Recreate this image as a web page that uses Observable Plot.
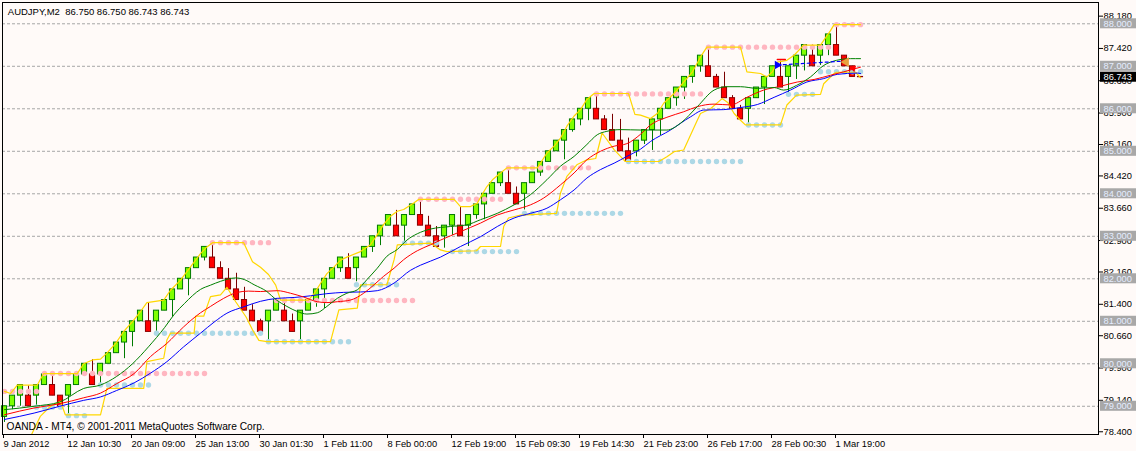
<!DOCTYPE html>
<html><head><meta charset="utf-8">
<script src="https://cdn.jsdelivr.net/npm/d3@7"></script>
<script src="https://cdn.jsdelivr.net/npm/@observablehq/plot@0.6"></script>
<style>
html,body{margin:0;padding:0;background:#fffaf8;}
#chart svg{display:block;}
</style></head><body><div id="chart"></div>
<script>
const title = "AUDJPY,M2\u00a0\u00a086.750 86.750 86.743 86.743";
const footer = "OANDA - MT4, \u00a9 2001-2011 MetaQuotes Software Corp.";

const opens = [
78.75,79.0,79.25,79.25,79.25,79.5,79.5,79.25,79.25,79.5,
79.75,79.75,79.75,80.0,80.25,80.5,80.75,81.0,81.0,81.0,
81.25,81.5,81.75,82.0,82.25,82.5,82.5,82.25,82.0,81.75,
81.5,81.25,81.0,81.0,81.25,81.25,81.0,81.0,81.25,81.5,
81.75,82.0,82.25,82.25,82.25,82.5,82.75,83.0,83.25,83.25,
83.25,83.5,83.5,83.25,83.0,83.0,83.25,83.25,83.25,83.5,
83.75,84.0,84.25,84.25,84.0,84.0,84.25,84.5,84.75,85.0,
85.25,85.5,85.75,86.0,86.0,85.75,85.5,85.25,85.0,85.0,
85.25,85.5,85.75,86.0,86.25,86.5,86.75,87.0,87.0,86.75,
86.5,86.25,86.0,86.0,86.25,86.5,86.75,86.75,86.75,87.0,
87.25,87.25,87.25,87.5,87.5,87.25,87.0,86.75];
const closes = [
79.0,79.25,79.5,79.0,79.5,79.75,79.25,79.0,79.5,79.75,
80.0,79.5,80.0,80.25,80.5,80.75,81.0,81.25,80.75,81.25,
81.5,81.75,82.0,82.25,82.5,82.75,82.25,82.0,81.75,81.5,
81.25,81.0,80.75,81.25,81.5,81.0,80.75,81.25,81.5,81.75,
82.0,82.25,82.5,82.0,82.5,82.75,83.0,83.25,83.5,83.0,
83.5,83.75,83.25,83.0,82.75,83.25,83.5,83.0,83.5,83.75,
84.0,84.25,84.5,84.0,83.75,84.25,84.5,84.75,85.0,85.25,
85.5,85.75,86.0,86.25,85.75,85.5,85.25,85.0,84.75,85.25,
85.5,85.75,86.0,86.25,86.5,86.75,87.0,87.25,86.75,86.5,
86.25,86.0,85.75,86.25,86.5,86.75,87.0,86.5,87.0,87.25,
87.5,87.0,87.5,87.75,87.25,87.0,86.75,86.743];
const highs = [
79.0,79.25,79.5,79.48,79.5,79.75,79.74,79.25,79.5,79.75,
80.0,80.1,80.0,80.25,80.5,80.75,81.0,81.25,81.44,81.25,
81.5,81.75,82.0,82.25,82.5,82.75,82.84,82.4,82.24,82.13,
81.8,81.39,81.05,81.25,81.5,81.49,81.17,81.25,81.5,81.75,
82.0,82.25,82.5,82.59,82.5,82.75,83.0,83.25,83.5,83.61,
83.5,83.75,83.88,83.47,83.23,83.25,83.5,83.7,83.5,83.75,
84.0,84.25,84.5,84.55,84.16,84.25,84.5,84.75,85.0,85.25,
85.5,85.75,86.0,86.25,86.3,85.84,85.87,85.75,85.31,85.25,
85.5,85.75,86.0,86.25,86.5,86.75,87.0,87.25,87.39,86.81,
86.86,86.31,86.08,86.25,86.5,86.75,87.0,87.12,87.0,87.25,
87.5,87.5,87.5,87.75,88.0,87.25,87.0,86.75];
const lows = [
78.62,78.92,79.0,79.0,79.02,79.5,79.25,79.0,78.8,79.5,
79.75,79.5,79.48,80.0,80.25,80.12,80.4,81.0,80.75,80.73,
81.25,81.1,81.75,81.6,82.25,82.42,82.25,82.0,81.75,81.5,
81.25,81.0,80.75,80.54,81.25,81.0,80.75,80.54,81.25,81.33,
81.3,82.0,82.15,82.0,81.93,82.5,82.62,82.78,83.25,83.0,
82.86,83.5,83.25,83.0,82.75,82.72,83.02,83.0,82.76,83.4,
83.39,84.0,84.17,84.0,83.75,83.62,84.25,84.41,84.75,85.0,
84.8,85.45,85.6,85.72,85.75,85.5,85.25,85.0,84.75,84.87,
85.16,85.02,85.37,86.0,86.06,86.22,86.6,86.86,86.75,86.5,
86.25,86.0,85.75,85.66,86.25,86.1,86.75,86.5,86.38,86.69,
86.89,87.0,87.02,87.25,87.25,87.0,86.75,86.743];

const greenMA = [[0,78.92],[3.7,79.0],[6.9,79.1],[9.9,79.42],[12,79.5],[14,79.7],[16,80.0],[18,80.4],[20,80.85],[21.25,81.17],[22.5,81.42],[24.5,81.75],[25.75,81.85],[27,81.94],[28.9,82.02],[30,81.98],[31.2,81.86],[32.8,81.7],[34,81.5],[35.3,81.35],[36.6,81.23],[37.8,81.17],[39.1,81.2],[40.3,81.35],[41.6,81.54],[42.8,81.66],[44.1,81.74],[45.3,81.98],[46.6,82.25],[47.8,82.53],[49.1,82.69],[50.3,82.91],[51.6,83.06],[53.25,83.17],[55.75,83.23],[57.8,83.27],[59.5,83.39],[61.6,83.54],[63.7,83.74],[65.75,83.98],[67.8,84.33],[69.5,84.65],[71.2,84.88],[72.8,85.16],[74.1,85.39],[75.3,85.47],[77,85.51],[79.5,85.5],[82.8,85.5],[84.5,85.66],[86.6,86.05],[88.7,86.44],[90.3,86.52],[92,86.52],[94.1,86.48],[96.2,86.5],[97.4,86.44],[99,86.55],[100.75,86.75],[102.4,87.02],[104,87.14],[105.75,87.18],[107,87.18]];
const redMA = [[0,78.8],[3.7,78.96],[6.9,79.06],[9.9,79.2],[12,79.31],[14,79.53],[16.2,79.77],[18.25,80.17],[20.3,80.48],[22.4,80.87],[24.5,81.2],[25.75,81.35],[27.4,81.54],[29.1,81.68],[30.5,81.71],[32,81.7],[34.1,81.72],[35.75,81.66],[37.4,81.57],[39.1,81.46],[40.3,81.44],[41.6,81.46],[43.25,81.5],[44.9,81.66],[46.2,81.86],[47.4,82.06],[48.7,82.25],[49.9,82.45],[51.6,82.66],[53.25,82.8],[54.5,82.91],[57,83.11],[59.5,83.31],[61.6,83.5],[63.7,83.62],[65.75,83.74],[67.4,83.9],[69.5,84.21],[71.2,84.49],[72.8,84.8],[74.5,85.0],[76.2,85.12],[77.8,85.18],[79.5,85.4],[80.75,85.62],[82.8,85.8],[84.9,85.93],[86.6,86.05],[88.7,86.11],[90.75,86.09],[92.8,86.27],[94.9,86.44],[97,86.53],[99.1,86.63],[101.2,86.69],[103.25,86.79],[104.9,86.87],[107,86.98]];
const blueMA = [[0,78.69],[3.7,78.84],[6.9,79.0],[9.9,79.14],[12,79.22],[14,79.37],[16.2,79.55],[18.25,79.78],[20.3,80.05],[22.4,80.4],[24.5,80.72],[26.2,80.98],[27.8,81.19],[29.9,81.34],[32,81.47],[34.1,81.54],[36.2,81.56],[38.25,81.6],[40.3,81.65],[42.4,81.68],[44.5,81.69],[46.6,81.72],[48.7,81.9],[50.75,82.2],[52,82.32],[54.5,82.51],[57,82.76],[59.5,82.99],[61.6,83.23],[63.7,83.43],[65.75,83.54],[67.8,83.66],[69.5,83.86],[71.2,84.09],[72.8,84.37],[74.5,84.57],[76.2,84.72],[77.8,84.88],[79.5,85.05],[80.75,85.23],[83.25,85.5],[85.75,85.81],[87.4,85.97],[89.9,85.98],[92,86.03],[94.1,86.1],[96.2,86.27],[98.25,86.44],[100.3,86.63],[102.4,86.71],[104.1,86.81],[106.6,86.84],[107,86.83]];

const yellowUpper = [[0,79.35],[0.75,79.3],[1.6,79.5],[4.1,79.5],[4.9,79.77],[9.1,79.77],[9.9,80.0],[11,80.09],[12,80.11],[12.8,80.25],[13.9,80.48],[14.9,80.76],[16,80.99],[17,81.23],[17.8,81.44],[19.9,81.5],[20.75,81.73],[22,81.97],[23.25,82.28],[24.5,82.59],[25.3,82.75],[26,82.85],[29.9,82.85],[31,82.4],[32,82.27],[33,82.1],[33.9,81.85],[34.5,81.5],[38,81.5],[38.7,81.65],[39.5,81.89],[40.3,82.12],[41.2,82.28],[42,82.44],[42.8,82.51],[44.5,82.64],[45.75,82.8],[46.6,83.04],[47.4,83.28],[48.25,83.47],[49.1,83.59],[49.9,83.63],[51.2,83.79],[51.8,83.87],[56.2,83.87],[57,83.7],[58.25,83.7],[59.1,83.78],[59.7,83.98],[60.3,84.17],[61,84.33],[62,84.49],[62.8,84.61],[66.6,84.61],[67,84.72],[67.8,84.96],[68.7,85.12],[69.5,85.31],[70.3,85.59],[71.2,85.83],[72,85.98],[72.8,86.22],[73.7,86.36],[78,86.36],[78.8,85.87],[79.5,85.85],[80.75,85.77],[81.6,85.89],[82.4,86.13],[83.7,86.36],[84.9,86.63],[86,86.87],[87,87.22],[87.8,87.45],[92,87.45],[92.8,86.87],[94.5,86.83],[95.3,86.75],[96,86.87],[96.6,87.1],[97.8,87.14],[98.7,87.26],[99.9,87.5],[102,87.5],[102.4,87.61],[103.25,87.84],[103.7,87.98],[107,87.98]];
const yellowLower = [[3.4,78.34],[4.5,78.77],[5.75,79.0],[7,79.12],[7.6,78.8],[12,78.8],[12.8,79.42],[17.4,79.42],[17.8,80.05],[19.9,80.13],[20.3,80.56],[20.75,80.72],[23.7,80.72],[23.9,81.12],[24.9,81.12],[25.75,81.58],[27,81.62],[27.8,81.8],[28.9,81.46],[30.2,81.1],[31,80.8],[31.8,80.55],[32.8,80.52],[40.75,80.52],[41.8,81.27],[44.1,81.31],[44.5,81.86],[47.8,81.86],[48.7,82.45],[49.1,82.8],[53.25,82.84],[54.5,82.68],[55.3,82.64],[59,82.66],[59.5,82.76],[62,82.76],[62.4,83.23],[63,83.43],[64.5,83.5],[69,83.54],[69.5,84.02],[70.3,84.41],[71.6,84.69],[72.8,84.8],[73.9,84.83],[74.7,85.43],[76.2,85.04],[77,84.88],[77.6,84.76],[81.8,84.76],[82.8,84.87],[83.7,84.99],[84.9,85.03],[86.6,85.73],[87,85.89],[88.25,86.0],[89.7,86.24],[90.4,86.15],[91.2,85.89],[92,85.73],[92.6,85.62],[97,85.62],[97.8,86.09],[99,86.32],[102,86.34],[102.4,86.59],[103.7,86.83],[104,86.86],[106.4,86.86],[107,86.73]];

// resistance (pink) and support (light blue) dot rows: [level, first candle, last candle]
const resistanceRows = [[79.35,0,4],[79.77,5,25],[82.85,26,33],[81.49,34,51],[83.87,52,62],[84.61,63,73],[86.35,74,87],[87.45,88,103],[87.98,104,107]];
const supportRows = [[78.98,4,7],[78.78,8,10],[79.5,12,18],[80.72,19,32],[80.52,33,43],[81.86,44,49],[82.84,50,54],[82.64,56,64],[83.54,65,77],[84.76,78,92],[85.62,93,97],[86.34,98,101],[86.87,102,107]];

const tradeLine = [[96.6,87.03],[104.8,87.12]];
const tradeEntry = [[96.6,87.03]];
const closeMark = [[96.6,87.16],[97.6,87.16]];
const exitMark = [[105.2,87.1]];
const stopMark = [[106.1,86.95]];

const gridLevels = [79,80,81,82,83,84,85,86,87,88];
const rightTicks = [88.18,87.42,86.66,85.90,85.16,84.42,83.66,82.90,82.16,81.40,80.66,79.90,79.14,78.40];
const lastPrice = [86.743];
const timeTicks = [0,8,16,24,32,40,48,56,64,72,80,88,96,104];
const timeLabels = ["9 Jan 2012","12 Jan 10:30","20 Jan 09:00","25 Jan 13:00","30 Jan 01:30","1 Feb 11:00","8 Feb 00:00","12 Feb 19:00","15 Feb 09:30","19 Feb 14:30","21 Feb 23:00","26 Feb 17:00","28 Feb 00:30","1 Mar 19:00"];

const candles = opens.map((o, i) => ({i, open: o, high: highs[i], low: lows[i], close: closes[i]}));
const pts = arr => arr.map(([i, v]) => ({i, v}));
const dotRows = rows => rows.flatMap(([v, a, b]) => d3.range(a, b + 1).map(i => ({i, v})));
const bull = d => d.close >= d.open;

const chart = Plot.plot({
  width: 1136, height: 451,
  marginLeft: 2, marginRight: 38, marginTop: 2, marginBottom: 17,
  style: {fontFamily: "'Liberation Sans', Arial, sans-serif", fontSize: "9.3px", background: "#fffaf8", color: "#000"},
  x: {domain: [-0.25, 136.75], axis: null, label: null},
  y: {domain: [78.336, 88.501], axis: null, label: null},
  marks: [
    Plot.ruleY(gridLevels, {stroke: "#a6a6a6", strokeDasharray: "3,2"}),
    Plot.ruleX(candles, {x: "i", y1: "low", y2: "high", stroke: d => bull(d) ? "#007a00" : "#7a0000"}),
    Plot.rect(candles, {x1: d => d.i - 0.32, x2: d => d.i + 0.32, y1: "open", y2: "close",
      fill: d => bull(d) ? "#7fff00" : "#ff0000", stroke: d => bull(d) ? "#007a00" : "#8b0000", strokeWidth: 1}),
    Plot.dot(dotRows(resistanceRows), {x: "i", y: "v", r: 2.7, fill: "#ffb6c1", stroke: "none"}),
    Plot.dot(dotRows(supportRows), {x: "i", y: "v", r: 2.7, fill: "#add8e6", stroke: "none"}),
    Plot.line(pts(yellowUpper), {x: "i", y: "v", stroke: "#ffd700", strokeWidth: 1.2}),
    Plot.line(pts(yellowLower), {x: "i", y: "v", stroke: "#ffd700", strokeWidth: 1.2}),
    Plot.line(pts(blueMA), {x: "i", y: "v", stroke: "#0000ff", strokeWidth: 1, curve: "monotone-x"}),
    Plot.line(pts(redMA), {x: "i", y: "v", stroke: "#ff0000", strokeWidth: 1, curve: "monotone-x"}),
    Plot.line(pts(greenMA), {x: "i", y: "v", stroke: "#008000", strokeWidth: 1, curve: "monotone-x"}),
    Plot.line(pts(tradeLine), {x: "i", y: "v", stroke: "#0000ff", strokeWidth: 1.2, strokeDasharray: "3,3"}),
    Plot.dot(pts(tradeEntry), {x: "i", y: "v", symbol: "triangle", rotate: 90, r: 3.2, fill: "#0000ff", stroke: "none"}),
    Plot.line(pts(closeMark), {x: "i", y: "v", stroke: "#ff0000", strokeWidth: 1.5}),
    Plot.dot(pts(exitMark), {x: "i", y: "v", symbol: "triangle", rotate: -90, r: 3.6, fill: "#e8a040", stroke: "none"}),
    Plot.dot(pts(stopMark), {x: "i", y: "v", symbol: "triangle", rotate: 45, r: 2.6, fill: "#ff0000", stroke: "none"}),
    Plot.frame({stroke: "#000", strokeWidth: 1}),
    Plot.axisX({ticks: timeTicks, anchor: "bottom", label: null, tickSize: 4, tickPadding: 2, textAnchor: "start", dx: -1,
      tickFormat: d => timeLabels[timeTicks.indexOf(d)], stroke: "#000", fill: "#000"}),
    Plot.axisY({ticks: rightTicks, anchor: "right", label: null, tickSize: 4, tickPadding: 1,
      tickFormat: d => d.toFixed(3), stroke: "#000", fill: "#000"}),
    Plot.rect(gridLevels, {x1: () => 137, x2: () => 142.5, y1: d => d - 0.118, y2: d => d + 0.118, fill: "#a8a8a8"}),
    Plot.text(gridLevels, {y: d => d, text: d => d.toFixed(3), frameAnchor: "right", textAnchor: "start", dx: 5, fill: "#e4ecff"}),
    Plot.rect(lastPrice, {x1: () => 137, x2: () => 142.5, y1: d => d - 0.118, y2: d => d + 0.118, fill: "#000"}),
    Plot.text(lastPrice, {y: d => d, text: d => d.toFixed(3), frameAnchor: "right", textAnchor: "start", dx: 5, fill: "#fff"}),
    Plot.text([title], {text: d => d, frameAnchor: "top-left", dx: 5.3, dy: 12, lineAnchor: "bottom", textAnchor: "start", fontSize: 9.5, fill: "#000"}),
    Plot.text([footer], {text: d => d, frameAnchor: "bottom-left", dx: 4, dy: -4.7, lineAnchor: "bottom", textAnchor: "start", fontSize: 10.2, fill: "#000"})
  ]
});
document.getElementById("chart").append(chart);
</script>
</body></html>
